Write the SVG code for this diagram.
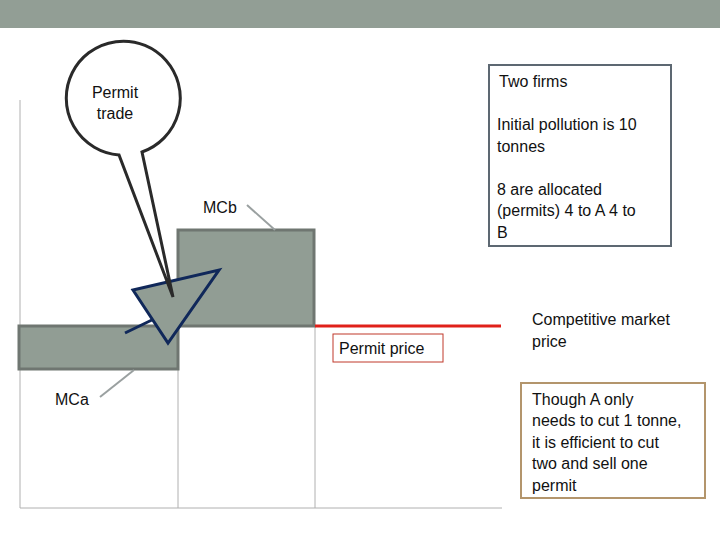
<svg xmlns="http://www.w3.org/2000/svg" width="720" height="540" viewBox="0 0 720 540">
<style>
text{font-family:"Liberation Sans",Arial,sans-serif;font-size:16px;fill:#111}
.bar{fill:#919d94;stroke:#6f7671;stroke-width:3}
.grid{stroke:#b0b0b0;stroke-width:1}
.lead{stroke:#9aa0a0;stroke-width:2}
</style>
<rect width="720" height="540" fill="#fff"/>
<rect width="720" height="28" fill="#929e95"/>
<g id="axes">
<line class="grid" x1="20" y1="100" x2="20" y2="508"/>
<line class="grid" x1="20" y1="508" x2="502" y2="508"/>
<line class="grid" x1="178" y1="326" x2="178" y2="508"/>
<line class="grid" x1="315" y1="326" x2="315" y2="508"/>
</g>
<g id="mca"><rect class="bar" x="19" y="326" width="159" height="43"/><text x="55" y="405">MCa</text></g>
<g id="mcb"><rect class="bar" x="178" y="230" width="136" height="96"/><text x="203" y="213">MCb</text></g>
<g id="connectors">
<line class="lead" x1="100" y1="397" x2="134" y2="370"/>
<line class="lead" x1="247" y1="205" x2="275" y2="230"/>
<line x1="315" y1="326" x2="501" y2="326" stroke="#e0201a" stroke-width="3"/>
<line x1="125" y1="333" x2="156" y2="318" stroke="#10285a" stroke-width="3"/>
</g>
<g id="triangle"><polygon points="133,290 219,270 168,343" fill="#919d94" stroke="#10285a" stroke-width="3"/></g>
<g id="bubble">
<path d="M119,155 A57,57 0 1 1 142,152 L173,297 Z" fill="#fff" stroke="#2a2a2a" stroke-width="3" stroke-linejoin="miter"/>
<text x="115" y="98" text-anchor="middle">Permit</text><text x="115" y="119" text-anchor="middle">trade</text>
</g>
<g id="price"><rect x="333" y="334" width="110" height="28" fill="#fff" stroke="#c0392b" stroke-width="1"/><text x="339" y="354">Permit price</text></g>
<g id="info"><rect x="489" y="65" width="182" height="181" fill="#fff" stroke="#5d6872" stroke-width="2"/>
<text x="499" y="87">Two firms</text>
<text x="497" y="130">Initial pollution is 10</text><text x="497" y="152">tonnes</text>
<text x="497" y="195">8 are allocated</text><text x="497" y="216">(permits) 4 to A 4 to</text><text x="497" y="238">B</text></g>
<g id="market"><text x="532" y="325">Competitive market</text><text x="532" y="347">price</text></g>
<g id="note"><rect x="521" y="383" width="184" height="115" fill="#fff" stroke="#b3956c" stroke-width="2"/>
<text x="532" y="405">Though A only</text><text x="532" y="426">needs to cut 1 tonne,</text><text x="532" y="448">it is efficient to cut</text><text x="532" y="469">two and sell one</text><text x="532" y="491">permit</text></g>
</svg>
